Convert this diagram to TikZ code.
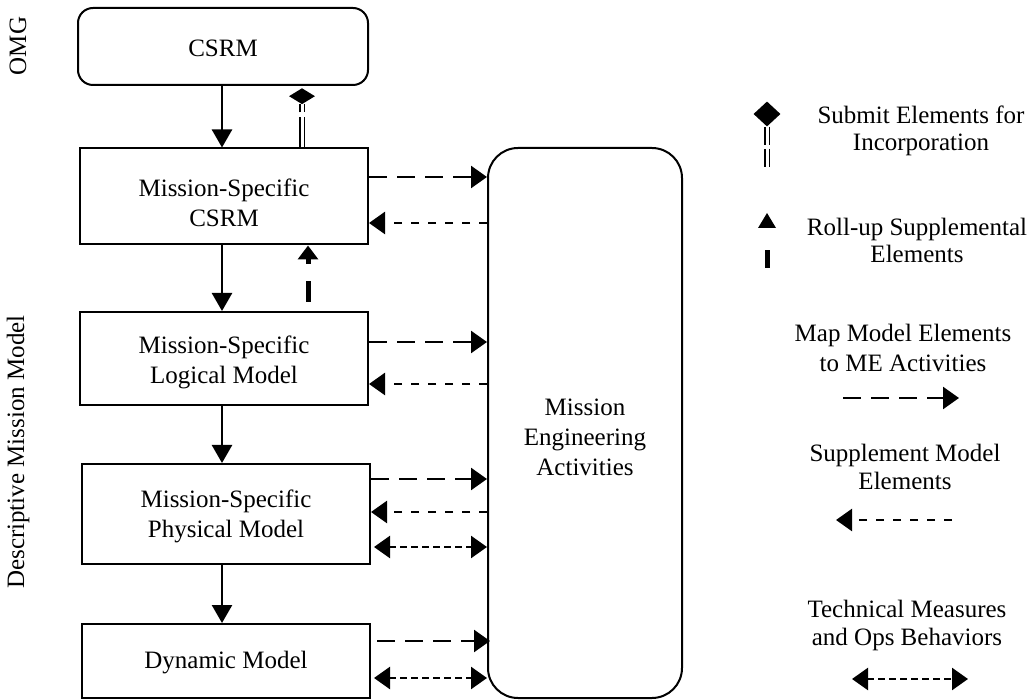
\documentclass[tikz,border=0pt]{standalone}
\usepackage{fontspec}
\setmainfont{Liberation Serif}
\usetikzlibrary{arrows.meta,shapes.geometric,calc}

\begin{document}
\begin{tikzpicture}[x=1pt,y=-1pt,
  box/.style={draw, line width=2pt, minimum width=288pt, inner sep=0pt},
  txt/.style={align=center, font=\fontsize{25}{30}\selectfont, inner sep=0pt},
  lbl/.style={align=center, font=\fontsize{25}{29}\selectfont},
  flow/.style={line width=2.5pt, -{Triangle[length=18pt,width=20pt]}},
  mapto/.style={line width=2.5pt, dash pattern=on 18pt off 10pt,
    -{Triangle[length=16pt,width=22pt]}},
  supp/.style={line width=2.5pt, dash pattern=on 8.5pt off 8.5pt,
    -{Triangle[length=16pt,width=22pt]}},
  tech/.style={line width=2.5pt, dash pattern=on 7pt off 4pt,
    {Triangle[length=16pt,width=22pt]}-{Triangle[length=16pt,width=22pt]}},
  submit/.style={double, double distance=3pt, line width=1.2pt,
    dash pattern=on 30pt off 5pt},
  rollup/.style={line width=5pt, dash pattern=on 21pt off 17pt,
    -{Triangle[length=14pt,width=20pt]}},
  diamondtip/.style={diamond, fill, inner sep=0pt},
]
\useasboundingbox (0,0) rectangle (1034,700);

% side labels
\node[lbl, rotate=90] (omg) at (18,46) {OMG};
\node[lbl, rotate=90] (dmm) at (18,452) {Descriptive Mission Model};

% model boxes
\node[box, rounded corners=15pt, minimum width=290pt, minimum height=77pt,
  label={[txt, yshift=-2pt]center:CSRM}] (csrm) at (223,46.5) {};
\node[box, minimum height=96pt,
  label={[txt, yshift=-6.5pt]center:Mission-Specific\\CSRM}] (ms) at (224,196.5) {};
\node[box, minimum height=93pt,
  label={[txt, yshift=-3.5pt]center:Mission-Specific\\Logical Model}] (log) at (224,358.5) {};
\node[box, minimum height=100pt,
  label={[txt, yshift=-2pt]center:Mission-Specific\\Physical Model}] (phy) at (226,514) {};
\node[box, minimum height=74pt,
  label={[txt, yshift=-2pt]center:Dynamic Model}] (dyn) at (226,661) {};

% mission engineering activities
\node[box, rounded corners=30pt, minimum width=194pt, minimum height=550pt,
  label={[txt, yshift=-14pt]center:Mission\\Engineering\\Activities}] (me) at (585,423) {};

% refinement chain
\draw[flow] (csrm.south -| 222,0) -- (ms.north -| 222,0);
\draw[flow] (ms.south -| 222,0) -- (log.north -| 222,0);
\draw[flow] (log.south -| 222,0) -- (phy.north -| 222,0);
\draw[flow] (phy.south -| 222,0) -- (dyn.north -| 222,0);

% submit elements for incorporation
\node[diamondtip, minimum width=26pt, minimum height=16pt, anchor=north]
  (subtip) at ([yshift=-2pt]csrm.south -| 302,0) {};
\draw[submit] (ms.north -| subtip) -- (subtip.south);

% roll-up supplemental elements
\coordinate (rollfoot) at (308,302);
\draw[rollup] (rollfoot) -- (ms.south -| rollfoot);

% mappings to and from the activities
\draw[mapto] (ms.east |- 0,177) -- (me.west |- 0,177);
\draw[supp]  (me.west |- 0,223) -- (ms.east |- 0,223);
\draw[mapto] (log.east |- 0,342) -- (me.west |- 0,342);
\draw[supp]  (me.west |- 0,384) -- (log.east |- 0,384);
\draw[mapto] (phy.east |- 0,479) -- (me.west |- 0,479);
\draw[supp]  (me.west |- 0,512) -- (phy.east |- 0,512);
\draw[tech]  ([xshift=3pt]phy.east |- 0,547) -- (me.west |- 0,547);
\draw[mapto] ([xshift=6pt]dyn.east |- 0,641) -- ([xshift=3pt]me.west |- 0,641);
\draw[tech]  ([xshift=3pt]dyn.east |- 0,678) -- (me.west |- 0,678);

% legend
\node[diamondtip, minimum width=27pt, minimum height=25pt] (lgdia) at (767,114) {};
\coordinate (lgdbot) at (767,168);
\draw[submit, dash pattern=on 18pt off 4pt] (lgdia.south) -- (lgdbot);
\node[lbl, font=\fontsize{25}{27.5}\selectfont] (lgsub) at (921,131) {Submit Elements for\\Incorporation};

\fill (758,228) -- (776,228) -- (767,213) -- cycle;
\fill (764.5,250) rectangle (769.5,268);
\node[lbl, font=\fontsize{25}{27}\selectfont] (lgroll) at (917,240) {Roll-up Supplemental\\Elements};

\node[lbl, font=\fontsize{25}{30}\selectfont] (lgmap) at (903,348) {Map Model Elements\\to ME Activities};
\coordinate (lgmapa) at (843,398);
\coordinate (lgmapb) at (959,398);
\draw[mapto] (lgmapa) -- (lgmapb);

\node[lbl, font=\fontsize{25}{28}\selectfont] (lgsupp) at (905,467) {Supplement Model\\Elements};
\coordinate (lgsuppa) at (952,520);
\coordinate (lgsuppb) at (836,520);
\draw[supp] (lgsuppa) -- (lgsuppb);

\node[lbl, font=\fontsize{25}{28}\selectfont] (lgtech) at (907,625) {Technical Measures\\and Ops Behaviors};
\coordinate (lgtecha) at (852,679);
\coordinate (lgtechb) at (968,679);
\draw[tech] (lgtecha) -- (lgtechb);
\end{tikzpicture}
\end{document}
